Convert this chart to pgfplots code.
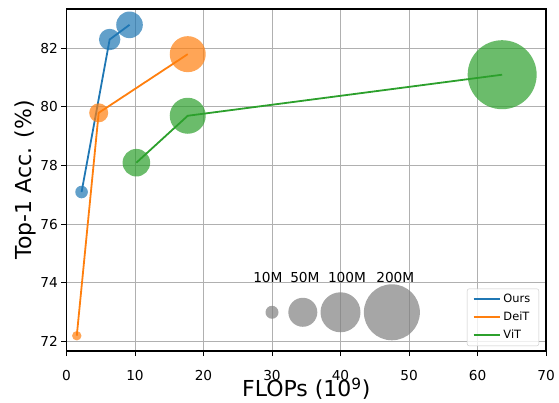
\documentclass[border=0pt]{standalone}
\usepackage{fontspec}
\setmainfont{DejaVu Sans}
\usepackage{pgfplots}
\usepackage{pgfplotstable}
\pgfplotsset{compat=1.18}

\definecolor{tabblue}{HTML}{1F77B4}
\definecolor{taborange}{HTML}{FF7F0E}
\definecolor{tabgreen}{HTML}{2CA02C}
\definecolor{gridgray}{HTML}{B0B0B0}

% x = GFLOPs, y = top-1 acc, r = bubble radius (px)
\pgfplotstableread{
x    y     r
2.2  77.1  6.3
6.3  82.3  10.7
9.2  82.8  13.3
}\ours
\pgfplotstableread{
x    y     r
1.5  72.2  4.7
4.7  79.8  9.5
17.7 81.8  18
}\deit
\pgfplotstableread{
x    y     r
10.2 78.1  13.8
17.7 79.7  18
63.6 81.1  34.5
}\vit
\pgfplotstableread{
x    y   r
30.0 73  6.5
34.5 73  14.5
40.0 73  20
47.5 73  28
}\sizes

\begin{document}
\begin{tikzpicture}
\begin{axis}[
  scale only axis,
  width=479.5pt, height=342pt,
  xmin=0, xmax=70, ymin=71.68, ymax=83.34,
  xtick={0,10,...,70}, ytick={72,74,...,82},
  tick pos=left, tick align=outside, major tick length=5pt,
  tick style={black, line width=1pt},
  grid=major, grid style={gridgray, line width=1pt},
  axis line style={black, line width=1.1pt},
  ticklabel style={font=\fontsize{13.7}{16}\selectfont},
  /pgf/number format/assume math mode=true,
  xticklabel style={anchor=base, yshift=-24pt, inner sep=0pt},
  yticklabel style={anchor=east, xshift=-3.5pt, inner sep=0pt},
  xlabel={FLOPs (10\textsuperscript{9})},
  ylabel={Top-1 Acc. (\%)},
  label style={font=\fontsize{22}{26}\selectfont},
  xlabel style={at={(axis description cs:0.5,-0.134)}, anchor=base},
  ylabel style={at={(axis description cs:-0.074,0.5)}, anchor=base},
  legend style={at={(0.9854,0.0146)}, anchor=south east,
    draw=gridgray!70, rounded corners=2pt, fill=white, fill opacity=0.8, text opacity=1,
    font=\fontsize{11.4}{13}\selectfont, inner xsep=5.5pt, inner ysep=3.5pt, row sep=4pt,
    nodes={text height=8.5pt, text depth=2.5pt, inner xsep=3pt, inner ysep=1.5pt}},
  legend cell align=left,
  legend image code/.code={\draw[#1] (0pt,0pt) -- (26pt,0pt);},
]
\coordinate (sw) at (rel axis cs:0,0);
\coordinate (ne) at (rel axis cs:1,1);

\addplot[scatter, only marks, mark=*, forget plot,
  visualization depends on={\thisrow{r}\as\rad},
  scatter/@pre marker code/.code={\scope[mark size=\rad, draw opacity=0, fill=tabblue, fill opacity=0.7]},
  scatter/@post marker code/.code={\endscope}] table[x=x,y=y] {\ours};
\addplot[scatter, only marks, mark=*, forget plot,
  visualization depends on={\thisrow{r}\as\rad},
  scatter/@pre marker code/.code={\scope[mark size=\rad, draw opacity=0, fill=taborange, fill opacity=0.7]},
  scatter/@post marker code/.code={\endscope}] table[x=x,y=y] {\deit};
\addplot[scatter, only marks, mark=*, forget plot,
  visualization depends on={\thisrow{r}\as\rad},
  scatter/@pre marker code/.code={\scope[mark size=\rad, draw opacity=0, fill=tabgreen, fill opacity=0.7]},
  scatter/@post marker code/.code={\endscope}] table[x=x,y=y] {\vit};
\addplot[scatter, only marks, mark=*, forget plot,
  visualization depends on={\thisrow{r}\as\rad},
  scatter/@pre marker code/.code={\scope[mark size=\rad, draw opacity=0, fill=gray, fill opacity=0.7]},
  scatter/@post marker code/.code={\endscope}] table[x=x,y=y] {\sizes};

\addplot[tabblue, line width=1.8pt, no marks] table[x=x,y=y] {\ours};
\addlegendentry{Ours}
\addplot[taborange, line width=1.8pt, no marks] table[x=x,y=y] {\deit};
\addlegendentry{DeiT}
\addplot[tabgreen, line width=1.8pt, no marks] table[x=x,y=y] {\vit};
\addlegendentry{ViT}

\begin{scope}[font=\fontsize{13.7}{16}\selectfont]
\node[anchor=base] at (axis cs:29.4,74.0) {10M};
\node[anchor=base] at (axis cs:34.8,74.0) {50M};
\node[anchor=base] at (axis cs:40.95,74.0) {100M};
\node[anchor=base] at (axis cs:48.0,74.0) {200M};
\end{scope}
\end{axis}
\pgfresetboundingbox
\path[use as bounding box] ([xshift=-66.5pt,yshift=-51pt]sw) rectangle ([xshift=13pt,yshift=9pt]ne);
\end{tikzpicture}
\end{document}
